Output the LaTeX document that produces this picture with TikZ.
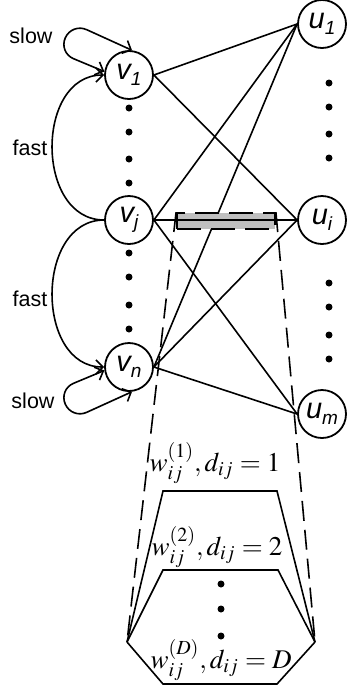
\documentclass[tikz,border=0pt]{standalone}
\usepackage{mathptmx}
\usepackage[no-math]{fontspec}
\setsansfont{Liberation Sans}
\usepackage{tikz}
\usetikzlibrary{arrows.meta}

\newcommand{\nodelab}[2]{#1\raisebox{-0.42ex}{\fontsize{9.5}{10}\selectfont #2}}

\tikzset{
  vert/.style={circle, draw, line width=0.9pt, minimum size=24pt, inner sep=0pt,
    font=\sffamily\itshape\fontsize{14.5}{16}\selectfont},
  link/.style={line width=0.8pt},
  arr/.style={line width=0.8pt, -{Straight Barb[length=3.5pt,width=7pt]}},
  darr/.style={line width=0.8pt, {Straight Barb[length=3.5pt,width=7pt]}-{Straight Barb[length=3.5pt,width=7pt]}},
  lbl/.style={font=\sffamily\fontsize{10.75}{12}\selectfont},
  frm/.style={font=\fontsize{13.5}{15}\selectfont, inner sep=0pt},
  zonebox/.style={draw, line width=0.9pt, dash pattern=on 12pt off 5pt, fill=gray!50,
    minimum width=49pt, minimum height=8pt, inner sep=0pt},
  guide/.style={line width=0.8pt, dash pattern=on 10pt off 4.5pt},
}

\begin{document}
\begin{tikzpicture}[x=0.5pt, y=-0.5pt]
\useasboundingbox (0,0) rectangle (347,692);
% Column positions
\def\colv{129}
\def\colu{322}

% Source and target nodes
\node[vert] (v1) at (\colv,75)  {\nodelab{v}{1}};
\node[vert] (vj) at (\colv,220) {\nodelab{v}{j}};
\node[vert] (vn) at (\colv,367) {\nodelab{v}{n}};
\node[vert] (u1) at (\colu,24)  {\nodelab{u}{1}};
\node[vert] (ui) at (\colu,220) {\nodelab{u}{i}};
\node[vert] (um) at (\colu,414) {\nodelab{u}{m}};

% Vertical dots
\foreach \y in {108,132,159,183,253,277,305,329}
  \fill (\colv,\y) circle (1.75pt);
\foreach \y in {83,107,134,158,283,307,335,359}
  \fill (329,\y) circle (1.75pt);

% Links (vj--ui goes on top of the box)
\draw[link] (v1.east) -- (u1.west);
\draw[link] (v1.east) -- (ui.west);
\draw[link] (vj.east) -- (u1.west);
\draw[link] (vj.east) -- (um.west);
\draw[link] (vn.east) -- (u1.west);
\draw[link] (vn.east) -- (ui.west);
\draw[link] (vn.east) -- (um.west);

% Highlighted link
\node[zonebox] (zone) at (226,221) {};
\draw[link] (vj.east) -- (ui.west);

% Slow self loops
\draw[darr, rounded corners=8pt] (v1.83) -- (72,23) -- (58.7,52.5) -- (v1.172);
\draw[darr, rounded corners=8pt] (vn.-83) -- (72,419) -- (58.7,389.5) -- (vn.188);
\node[lbl] (slowa) at (31,36) {slow};
\node[lbl] (slowb) at (33,401) {slow};

% Fast arcs
\draw[arr] (vj.west) .. controls (35,220) and (35,75) .. (v1.west);
\draw[arr] (vj.west) .. controls (35,220) and (35,367) .. (vn.west);
\node[lbl] (fasta) at (30,148) {fast};
\node[lbl] (fastb) at (30,299) {fast};

% Expanded view of the link
\coordinate (apL) at (127,642);
\coordinate (apR) at (315,642);
\draw[guide] (zone.north west) -- (apL);
\draw[guide] (zone.north east) -- (apR);
\draw[link] (apL) -- (163,491) -- (277,491) -- (apR);
\draw[link] (apL) -- (163,570) -- (278,570) -- (apR);
\draw[link] (apL) -- (163,684) -- (277,684) -- (apR);

\node[frm] (w1) at (215,463) {$w_{ij}^{(1)}, d_{ij} = 1$};
\node[frm] (w2) at (217,547) {$w_{ij}^{(2)}, d_{ij} = 2$};
\node[frm] (wD) at (221,660) {$w_{ij}^{(D)}, d_{ij} = D$};
\foreach \y in {584,609,636}
  \fill (221,\y) circle (1.75pt);
\end{tikzpicture}
\end{document}
